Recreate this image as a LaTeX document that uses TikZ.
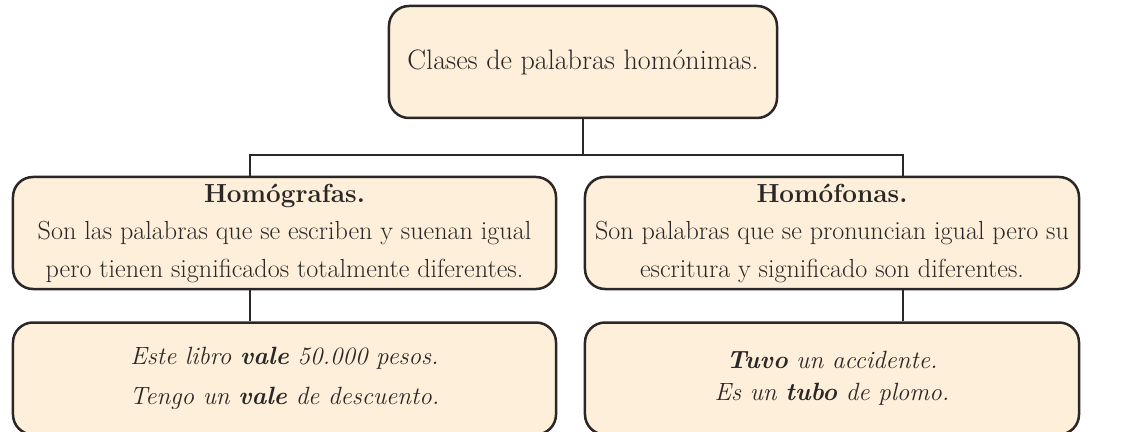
\documentclass[tikz,border=0pt]{standalone}
\usetikzlibrary{positioning}
\definecolor{BoxFill}{HTML}{FDEFD9}
\definecolor{BoxLine}{HTML}{2A2726}

\begin{document}
\begin{tikzpicture}[x=0.03cm, y=-0.03cm,
    caja/.style={draw=BoxLine, fill=BoxFill, line width=0.075cm,
        rounded corners=0.6cm, align=center, inner sep=0pt, text=BoxLine},
    enlace/.style={draw=BoxLine, line width=0.075cm}]

    \useasboundingbox (0,0) rectangle (1131,432);

    % Top box
    \node[caja, minimum width=11.64cm, minimum height=3.36cm,
        font=\fontsize{24}{28}\selectfont] (clases) at (583,62)
        {Clases de palabras homónimas.};

    % Middle boxes
    \node[caja, minimum width=16.29cm, minimum height=3.36cm,
        font=\fontsize{22.3}{32}\selectfont] (homog) at (284.5,233)
        {\textbf{Homógrafas.}\\
         Son las palabras que se escriben y suenan igual\\
         pero tienen significados totalmente diferentes.};
    \node[caja, minimum width=14.82cm, minimum height=3.36cm,
        font=\fontsize{22.3}{32}\selectfont] (homof) at (832,233)
        {\textbf{Homófonas.}\\
         Son palabras que se pronuncian igual pero su\\
         escritura y significado son diferentes.};

    % Example boxes
    \node[caja, minimum width=16.29cm, minimum height=3.36cm,
        font=\fontsize{21.3}{34}\selectfont\itshape,
        below=0.93cm of homog] (ejgraf)
        {Este libro \textbf{vale} 50.000 pesos.\\
         Tengo un \textbf{vale} de descuento.};
    \node[caja, minimum width=14.82cm, minimum height=3.36cm,
        font=\fontsize{21.3}{27}\selectfont\itshape,
        below=0.93cm of homof] (ejfon)
        {\textbf{Tuvo} un accidente.\\
         Es un \textbf{tubo} de plomo.};

    % Branches
    \coordinate (ramaizq) at (250,155);
    \coordinate (ramader) at (903,155);
    \draw[enlace] (clases.south) -- (clases.south |- ramaizq);
    \draw[enlace] (ramaizq |- homog.north) -- (ramaizq) -- (ramader)
        -- (ramader |- homof.north);
    \draw[enlace] (ramaizq |- homog.south) -- (ramaizq |- ejgraf.north);
    \draw[enlace] (ramader |- homof.south) -- (ramader |- ejfon.north);

\end{tikzpicture}
\end{document}
